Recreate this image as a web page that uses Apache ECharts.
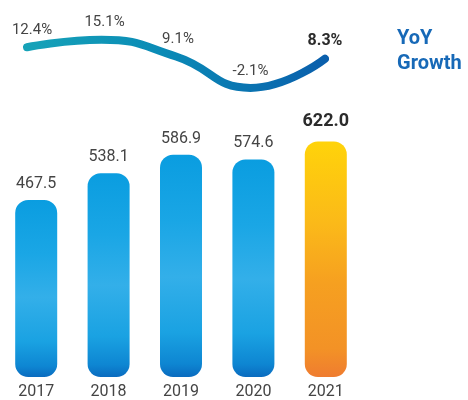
<!DOCTYPE html>
<html>
<head>
<meta charset="utf-8">
<script src="https://cdn.jsdelivr.net/npm/echarts@6/dist/echarts.min.js"></script>
<style>
  html, body { margin: 0; padding: 0; background: #ffffff; }
  #chart { width: 468px; height: 400px; }
</style>
</head>
<body>
<div id="chart"></div>
<script>
const YEARS = ['2017', '2018', '2019', '2020', '2021']
const REVENUE = [467.5, 538.1, 586.9, 574.6, 622.0]
const YOY_GROWTH = [12.4, 15.1, 9.1, -2.1, 8.3]
const LEGEND_TEXT = 'YoY\nGrowth'

const FONT = 'Roboto, "Noto Sans", sans-serif'
const LAST = YEARS.length - 1

// 蓝色水彩柱 / 最后一年黄色
const blueFill = new echarts.graphic.LinearGradient(0, 0, 0, 1, [
  { offset: 0, color: '#0a9de0' },
  { offset: 0.3, color: '#1aa6e5' },
  { offset: 0.55, color: '#33afe9' },
  { offset: 0.8, color: '#1aa2e2' },
  { offset: 0.94, color: '#0e86d2' },
  { offset: 1, color: '#0a6bbf' },
])
const yellowFill = new echarts.graphic.LinearGradient(0, 0, 0, 1, [
  { offset: 0, color: '#ffd30a' },
  { offset: 0.35, color: '#fbb919' },
  { offset: 0.6, color: '#f6a020' },
  { offset: 0.88, color: '#f39226' },
  { offset: 1, color: '#ef7c30' },
])
const lineFill = new echarts.graphic.LinearGradient(0, 0, 1, 0, [
  { offset: 0, color: '#17a3b8' },
  { offset: 0.45, color: '#0a8bb6' },
  { offset: 1, color: '#0a5eac' },
])

const barData = REVENUE.map((v, i) => ({
  value: v,
  itemStyle: { color: i === LAST ? yellowFill : blueFill },
  label: i === LAST
    ? { fontWeight: 'bold', color: '#2b2b2b', fontSize: 18, distance: 11 }
    : {},
}))

const labelShift = [[5, 0], [3, 0], [2, 0], [0, 0], [0, 0]]
const lineData = YOY_GROWTH.map((v, i) => ({
  value: v,
  label: Object.assign(
    { offset: labelShift[i] },
    i === LAST ? { fontWeight: 'bold', color: '#2b2b2b', fontSize: 16 } : {}
  ),
}))

const chart = echarts.init(document.getElementById('chart'))
chart.setOption({
  backgroundColor: '#ffffff',
  animation: false,
  textStyle: { fontFamily: FONT },
  title: {
    text: LEGEND_TEXT,
    left: 397,
    top: 26,
    padding: 0,
    textStyle: {
      fontFamily: FONT,
      fontSize: 20,
      fontWeight: 'bold',
      color: '#1769b7',
      lineHeight: 25,
    },
  },
  grid: [
    { left: -5, right: 106, top: 112, bottom: 23 },
    { left: 27, right: 143, top: 26, height: 70 },
  ],
  xAxis: [
    {
      type: 'category',
      gridIndex: 0,
      data: YEARS,
      axisLine: { show: false },
      axisTick: { show: false },
      axisLabel: { color: '#444444', fontSize: 16, margin: 7 },
    },
    {
      type: 'category',
      gridIndex: 1,
      data: YEARS,
      boundaryGap: false,
      show: false,
    },
  ],
  yAxis: [
    { type: 'value', gridIndex: 0, min: 0, max: 700, show: false },
    { type: 'value', gridIndex: 1, min: -5, max: 20, show: false },
  ],
  series: [
    {
      type: 'bar',
      xAxisIndex: 0,
      yAxisIndex: 0,
      data: barData,
      barWidth: 42,
      itemStyle: { borderRadius: 13 },
      label: {
        show: true,
        position: 'top',
        distance: 8,
        fontSize: 16,
        color: '#444444',
        formatter: p => p.value.toFixed(1),
      },
    },
    {
      type: 'line',
      xAxisIndex: 1,
      yAxisIndex: 1,
      data: lineData,
      smooth: 0.5,
      symbol: 'circle',
      symbolSize: 1,
      showSymbol: true,
      itemStyle: { color: 'rgba(0,0,0,0)' },
      lineStyle: { width: 8, color: lineFill, cap: 'round' },
      label: {
        show: true,
        position: 'top',
        distance: 9,
        fontSize: 15,
        color: '#444444',
        formatter: p => p.value.toFixed(1) + '%',
      },
    },
  ],
})
</script>
</body>
</html>
